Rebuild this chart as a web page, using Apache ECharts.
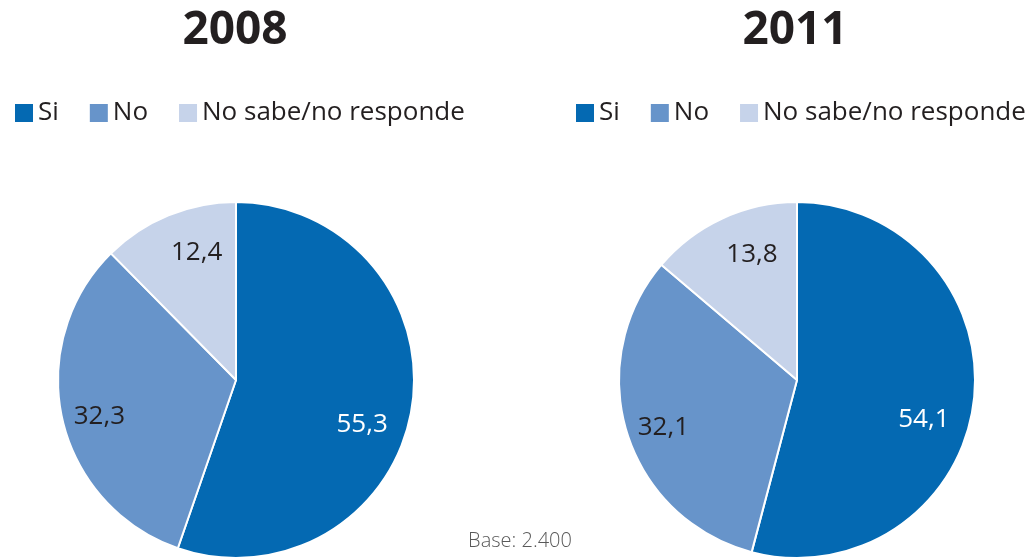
<!DOCTYPE html>
<html>
<head>
<meta charset="utf-8">
<script src="https://cdn.jsdelivr.net/npm/echarts@6/dist/echarts.min.js"></script>
<style>
  html, body { margin: 0; padding: 0; background: #fff; }
  #chart { width: 1031px; height: 558px; }
</style>
</head>
<body>
<div id="chart"></div>
<script>
// categorías y valores (%)
var categories = ["Si", "No", "No sabe/no responde"];
var years = ["2008", "2011"];
var values2008 = [55.3, 32.3, 12.4];
var values2011 = [54.1, 32.1, 13.8];
var baseText = "Base: 2.400";

var colors = ["#0469b2", "#6794ca", "#c6d3ea"];
var labelColors = ["#ffffff", "#231f20", "#231f20"];
// ajuste fino de etiquetas, como en Excel
var labelOffsets = [[-10, 22], [-2, 6], [13, 0]];
var font = "'Open Sans', sans-serif";

var myChart = echarts.init(document.getElementById("chart"));

function toData(vals) {
  return vals.map(function (v, i) {
    return { name: categories[i], value: v };
  });
}

function toLabelData(vals) {
  return vals.map(function (v, i) {
    return {
      name: categories[i],
      value: v,
      label: { color: labelColors[i], offset: labelOffsets[i] },
    };
  });
}

// pie real + serie transparente solo para colocar las etiquetas
function pieSeries(vals, cx) {
  return [
    {
      type: "pie",
      center: [cx, 380],
      radius: [0, 178],
      startAngle: 90,
      clockwise: true,
      animation: false,
      silent: true,
      label: { show: false },
      labelLine: { show: false },
      itemStyle: { borderColor: "#fff", borderWidth: 2 },
      data: toData(vals),
    },
    {
      type: "pie",
      center: [cx, 380],
      radius: [92, 178],
      startAngle: 90,
      clockwise: true,
      animation: false,
      silent: true,
      itemStyle: { color: "rgba(0,0,0,0)" },
      label: {
        show: true,
        position: "inside",
        fontFamily: font,
        fontSize: 26,
        formatter: function (p) {
          return p.value.toFixed(1).replace(".", ",");
        },
      },
      labelLine: { show: false },
      data: toLabelData(vals),
    },
  ];
}

function legend(left) {
  return {
    left: left,
    top: 100,
    padding: 0,
    itemWidth: 20,
    itemHeight: 20,
    itemGap: 29,
    icon: "rect",
    selectedMode: false,
    textStyle: { fontFamily: font, fontSize: 26, color: "#231f20", padding: [0, 0, 0, -1] },
    data: categories,
  };
}

function yearTitle(text, cx) {
  return {
    text: text,
    left: cx,
    top: 8,
    padding: 0,
    textAlign: "center",
    textStyle: { fontFamily: font, fontSize: 46, fontWeight: "bold", color: "#231f20" },
  };
}

myChart.setOption({
  color: colors,
  title: [
    yearTitle(years[0], 235),
    yearTitle(years[1], 795),
    {
      text: baseText,
      left: 520,
      top: 531,
      padding: 0,
      textAlign: "center",
      textStyle: { fontFamily: font, fontSize: 20, fontWeight: 300, color: "#595959" },
    },
  ],
  legend: [legend(13), legend(574)],
  series: pieSeries(values2008, 236).concat(pieSeries(values2011, 797)),
});
</script>
</body>
</html>
